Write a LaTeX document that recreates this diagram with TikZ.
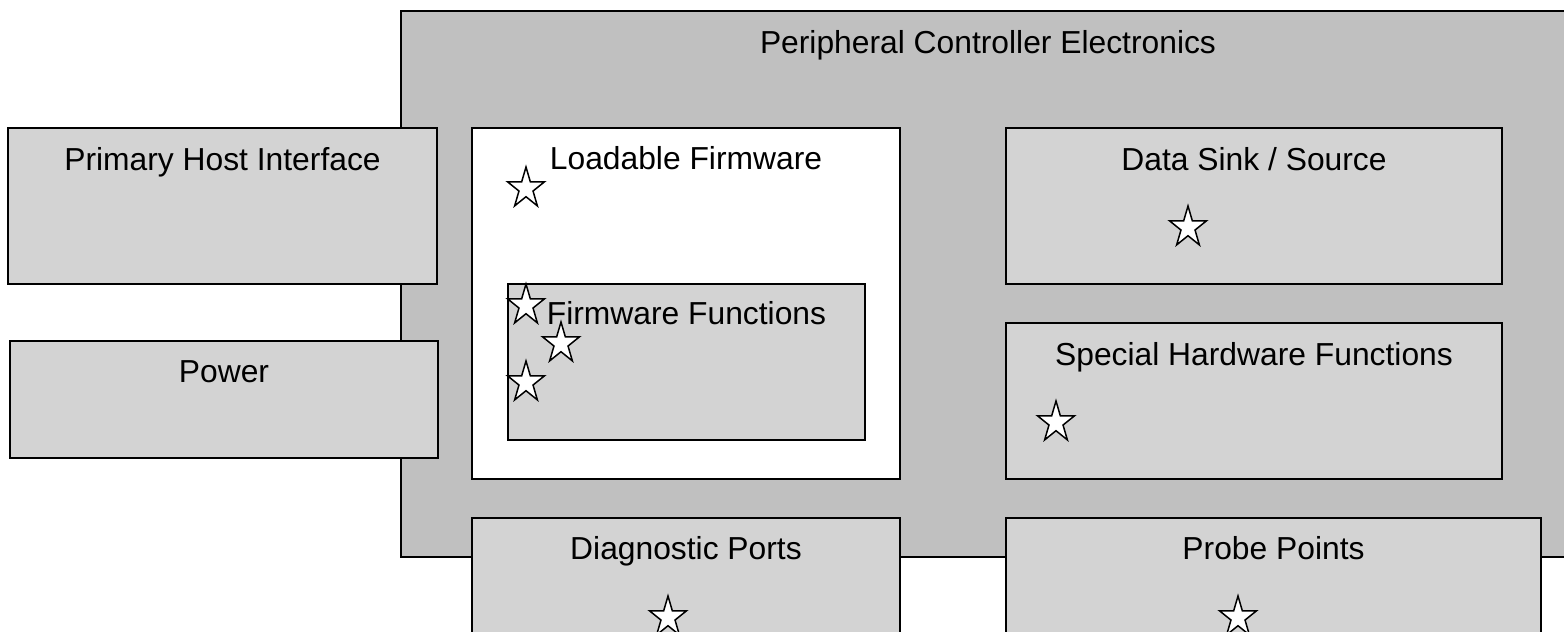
\documentclass[tikz,border=0pt]{standalone}
\usepackage{fontspec}
\setmainfont{Liberation Sans}
\usetikzlibrary{shapes.geometric}
\definecolor{outergray}{HTML}{C0C0C0}
\definecolor{boxgray}{HTML}{D3D3D3}
\tikzset{
  blk/.style={draw=black, line width=1.8pt, fill=boxgray, anchor=north west, inner sep=0pt, outer sep=0pt},
  lbl/.style={anchor=base, inner sep=0pt, font=\fontsize{31.8}{38}\selectfont},
  starmark/.style={star, star points=5, star point ratio=2.618, minimum size=43pt, inner sep=0pt, draw=black, line width=1.5pt, fill=white, xscale=0.9}
}
\begin{document}
\begin{tikzpicture}[x=1pt, y=-1pt]
\useasboundingbox (0,0) rectangle (1564,632);
\clip (0,0) rectangle (1564,632);
% outer container
\node[blk, fill=outergray, minimum width=1174pt, minimum height=546pt] (pce) at (401,11) {};
\node[lbl] (pcet) at ([yshift=-42pt]pce.north) {Peripheral Controller Electronics};
% left side boxes
\node[blk, minimum width=429pt, minimum height=156pt] (phi) at (8,128) {};
\node[lbl] (phit) at ([yshift=-42pt]phi.north) {Primary Host Interface};
\node[blk, minimum width=428pt, minimum height=117pt] (pow) at (10,341) {};
\node[lbl] (powt) at ([yshift=-41pt]pow.north) {Power};
% loadable firmware
\node[blk, fill=white, minimum width=428pt, minimum height=351pt] (lf) at (472,128) {};
\node[lbl] (lft) at ([yshift=-41pt]lf.north) {Loadable Firmware};
\node[blk, minimum width=357pt, minimum height=156pt] (ff) at (508,284) {};
\node[lbl] (fft) at ([yshift=-40pt]ff.north) {Firmware Functions};
% right boxes
\node[blk, minimum width=496pt, minimum height=156pt] (dss) at (1006,128) {};
\node[lbl] (dsst) at ([yshift=-42pt]dss.north) {Data Sink / Source};
\node[blk, minimum width=496pt, minimum height=156pt] (shf) at (1006,323) {};
\node[lbl] (shft) at ([yshift=-42pt]shf.north) {Special Hardware Functions};
% bottom boxes
\node[blk, minimum width=428pt, minimum height=160pt] (dp) at (472,518) {};
\node[lbl] (dpt) at ([yshift=-41pt]dp.north) {Diagnostic Ports};
\node[blk, minimum width=535pt, minimum height=160pt] (pp) at (1006,518) {};
\node[lbl] (ppt) at ([yshift=-41pt]pp.north) {Probe Points};
% stars
\node[starmark] (s1) at (526,188.5) {};
\node[starmark] (s2) at (526,305.5) {};
\node[starmark] (s3) at (561,343.5) {};
\node[starmark] (s4) at (526,382.5) {};
\node[starmark] (s5) at (1188,227.5) {};
\node[starmark] (s6) at (1056,422.5) {};
\node[starmark] (s7) at (668,617.5) {};
\node[starmark] (s8) at (1238,617.5) {};
\end{tikzpicture}
\end{document}
